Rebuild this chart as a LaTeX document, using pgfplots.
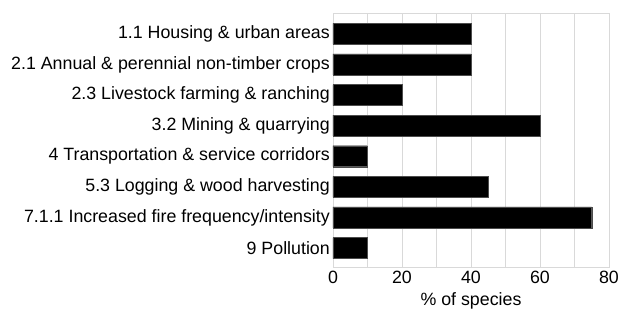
\documentclass[border=0pt]{standalone}
\usepackage{pgfplots}
\pgfplotsset{compat=1.18}
\usepackage{fontspec}
\setmainfont{Liberation Sans}
\begin{document}
\begin{tikzpicture}
\begin{axis}[
  at={(0,0)}, anchor=south west,
  scale only axis,
  width=276bp, height=254bp,
  xbar, bar width=21bp,
  xmin=0, xmax=80,
  ymin=-0.68, ymax=7.62,
  y dir=reverse,
  ytick={0,...,7},
  yticklabels={1.1 Housing \& urban areas,2.1 Annual \& perennial non-timber crops,2.3 Livestock farming \& ranching,3.2 Mining \& quarrying,4 Transportation \& service corridors,5.3 Logging \& wood harvesting,7.1.1 Increased fire frequency/intensity,9 Pollution},
  xtick={0,20,40,60,80},
  minor xtick={10,30,50,70},
  xmajorgrids, xminorgrids,
  grid style={draw=black!15, line width=0.8pt},
  minor grid style={draw=black!15, line width=0.8pt},
  axis line style={draw=black!15, line width=0.8pt},
  major tick length=0pt, minor tick length=0pt,
  tick style={draw=none},
  /pgf/number format/assume math mode=true,
  ticklabel style={font=\fontsize{17.8bp}{20bp}\selectfont},
  yticklabel style={inner sep=0pt, xshift=-3bp},
  xticklabel style={inner sep=0pt, yshift=-4bp},
  xlabel={\% of species},
  xlabel style={font=\fontsize{17.8bp}{20bp}\selectfont, inner sep=0pt, yshift=-9bp},
]
\addplot[fill=black, draw=black!70] coordinates {(40,0) (40,1) (20,2) (60,3) (10,4) (45,5) (75,6) (10,7)};
\end{axis}
\pgfresetboundingbox
\useasboundingbox (-333bp,-42bp) rectangle (285bp,267bp);
\end{tikzpicture}
\end{document}
